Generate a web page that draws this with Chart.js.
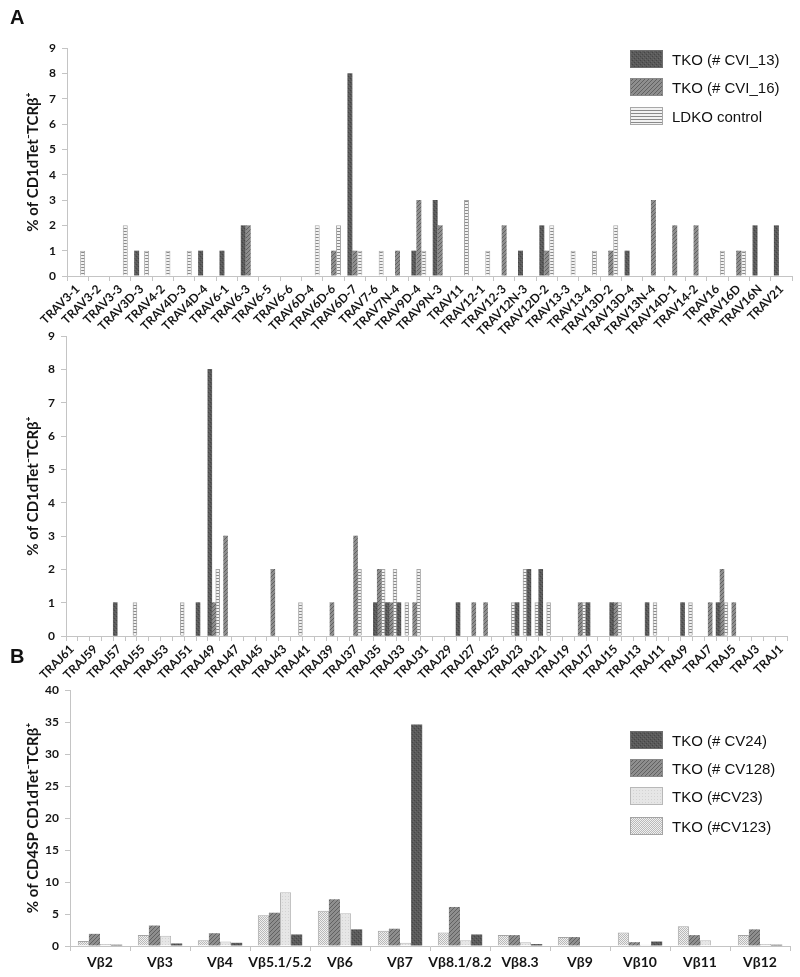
<!DOCTYPE html>
<html>
<head>
<meta charset="utf-8">
<script src="https://cdn.jsdelivr.net/npm/chart.js@4/dist/chart.umd.min.js"></script>
<style>
  body { margin: 0; background: #fff; }
  #page { position: relative; width: 800px; height: 977px; overflow: hidden; }
  #page > canvas { position: absolute; left: 0; }
  .panel { position: absolute; left: 10px; font: bold 20px "Liberation Sans", Arial, sans-serif; color: #111; }
  .legend { position: absolute; left: 630px; top: 0; }
  .legend .row { position: absolute; left: 0; height: 18px; display: flex; align-items: center; white-space: nowrap; }
  .legend canvas { margin-right: 9px; }
  .legend span { font: 15px "Liberation Sans", Arial, sans-serif; color: #111; }
</style>
</head>
<body>
<div id="page">
  <canvas id="travChart" width="800" height="340" style="top:0"></canvas>
  <canvas id="trajChart" width="800" height="390" style="top:320px"></canvas>
  <canvas id="vbChart" width="800" height="327" style="top:650px"></canvas>
  <div class="panel" style="top:6px">A</div>
  <div class="panel" style="top:645px">B</div>
  <div class="legend" id="legendA"></div>
  <div class="legend" id="legendB"></div>
</div>
<script>
/* global Chart */

// ---- panel A, top: TRAV usage ----
const travLabels = ['TRAV3-1', 'TRAV3-2', 'TRAV3-3', 'TRAV3D-3', 'TRAV4-2', 'TRAV4D-3', 'TRAV4D-4', 'TRAV6-1',
  'TRAV6-3', 'TRAV6-5', 'TRAV6-6', 'TRAV6D-4', 'TRAV6D-6', 'TRAV6D-7', 'TRAV7-6', 'TRAV7N-4', 'TRAV9D-4',
  'TRAV9N-3', 'TRAV11', 'TRAV12-1', 'TRAV12-3', 'TRAV12N-3', 'TRAV12D-2', 'TRAV13-3', 'TRAV13-4',
  'TRAV13D-2', 'TRAV13D-4', 'TRAV13N-4', 'TRAV14D-1', 'TRAV14-2', 'TRAV16', 'TRAV16D', 'TRAV16N', 'TRAV21'];
const travCVI13 = [0,0,0,1,0,0,1,1,2,0, 0,0,0,8,0,0,1,3,0,0, 0,1,2,0,0,0,1,0,0,0, 0,0,2,2];
const travCVI16 = [0,0,0,0,0,0,0,0,2,0, 0,0,1,1,0,1,3,2,0,0, 2,0,1,0,0,1,0,3,2,2, 0,1,0,0];
const travLDKO  = [1,0,2,1,1,1,0,0,0,0, 0,2,2,1,1,0,1,0,3,1, 0,0,2,1,1,2,0,0,0,0, 1,1,0,0];

// ---- panel A, bottom: TRAJ usage ----
const trajLabels = ['TRAJ61', 'TRAJ60', 'TRAJ59', 'TRAJ58', 'TRAJ57', 'TRAJ56', 'TRAJ55', 'TRAJ54', 'TRAJ53',
  'TRAJ52', 'TRAJ51', 'TRAJ50', 'TRAJ49', 'TRAJ48', 'TRAJ47', 'TRAJ46', 'TRAJ45', 'TRAJ44', 'TRAJ43', 'TRAJ42',
  'TRAJ41', 'TRAJ40', 'TRAJ39', 'TRAJ38', 'TRAJ37', 'TRAJ36', 'TRAJ35', 'TRAJ34', 'TRAJ33', 'TRAJ32', 'TRAJ31',
  'TRAJ30', 'TRAJ29', 'TRAJ28', 'TRAJ27', 'TRAJ26', 'TRAJ25', 'TRAJ24', 'TRAJ23', 'TRAJ22', 'TRAJ21', 'TRAJ20',
  'TRAJ19', 'TRAJ18', 'TRAJ17', 'TRAJ16', 'TRAJ15', 'TRAJ14', 'TRAJ13', 'TRAJ12', 'TRAJ11', 'TRAJ10', 'TRAJ9',
  'TRAJ8', 'TRAJ7', 'TRAJ6', 'TRAJ5', 'TRAJ4', 'TRAJ3', 'TRAJ2', 'TRAJ1'];
const trajCVI13 = [0,0,0,0,1,0,0,0,0,0, 0,1,8,0,0,0,0,0,0,0, 0,0,0,0,0,0,1,1,1,0,
                   0,0,0,1,0,0,0,0,1,2, 2,0,0,0,1,0,1,0,0,1, 0,0,1,0,0,1,0,0,0,0, 0];
const trajCVI16 = [0,0,0,0,0,0,0,0,0,0, 0,0,1,3,0,0,0,2,0,0, 0,0,1,0,3,0,2,1,0,1,
                   0,0,0,0,1,1,0,0,0,0, 0,0,0,1,0,0,1,0,0,0, 0,0,0,0,1,2,1,0,0,0, 0];
const trajLDKO  = [0,0,0,0,0,1,0,0,0,1, 0,0,2,0,0,0,0,0,0,1, 0,0,0,0,2,0,2,2,1,2,
                   0,0,0,0,0,0,0,1,2,1, 1,0,0,1,0,0,1,0,0,1, 0,0,1,0,0,1,0,0,0,0, 0];

// ---- panel B: Vbeta usage ----
const vbLabels = ['Vβ2', 'Vβ3', 'Vβ4', 'Vβ5.1/5.2', 'Vβ6', 'Vβ7', 'Vβ8.1/8.2', 'Vβ8.3', 'Vβ9', 'Vβ10', 'Vβ11', 'Vβ12'];
const vbCV123 = [0.8, 1.7, 0.9, 4.8, 5.5, 2.4, 2.1, 1.7, 1.4, 2.1, 3.1, 1.7];
const vbCV128 = [1.9, 3.2, 2.0, 5.2, 7.3, 2.7, 6.1, 1.7, 1.4, 0.6, 1.7, 2.6];
const vbCV23  = [0.3, 1.6, 0.7, 8.4, 5.1, 0.5, 0.9, 0.6, 0,   0.2, 0.9, 0.3];
const vbCV24  = [0.2, 0.4, 0.5, 1.8, 2.6, 34.6, 1.8, 0.3, 0,  0.7, 0,   0.2];

const FONT = 'Lato, "Open Sans", sans-serif';
const AXIS = '#c4c4c4';
const INK = '#141414';

// small repeating tiles to imitate the Excel fill patterns
function tile(w, h, paint) {
  const c = document.createElement('canvas');
  c.width = w; c.height = h;
  const g = c.getContext('2d');
  paint(g);
  return g.createPattern(c, 'repeat');
}
function px(g, col, pts) {
  g.fillStyle = col;
  pts.forEach(p => g.fillRect(p[0], p[1], 1, 1));
}

const patDark = tile(4, 4, g => {
  g.fillStyle = '#5a5a5a'; g.fillRect(0, 0, 4, 4);
  px(g, '#454545', [[0, 0], [2, 2]]);
  px(g, '#6a6a6a', [[1, 3], [3, 1]]);
});
const patMedium = tile(4, 4, g => {
  g.fillStyle = '#8e8e8e'; g.fillRect(0, 0, 4, 4);
  px(g, '#616161', [[0, 3], [1, 2], [2, 1], [3, 0]]);
});
const patStripes = tile(3, 3, g => {
  g.fillStyle = '#f2f2f2'; g.fillRect(0, 0, 3, 3);
  g.fillStyle = '#8a8a8a'; g.fillRect(0, 0, 3, 1);
});
const patLight = tile(3, 3, g => {
  g.fillStyle = '#e6e6e6'; g.fillRect(0, 0, 3, 3);
  px(g, '#d3d3d3', [[0, 0]]);
});
const patChecker = tile(2, 2, g => {
  g.fillStyle = '#f0f0f0'; g.fillRect(0, 0, 2, 2);
  px(g, '#b9b9b9', [[0, 0], [1, 1]]);
});

const nz = arr => arr.map(v => (v === 0 ? null : v));

function series(label, values, fill, border) {
  return {
    label,
    data: nz(values),
    backgroundColor: fill,
    borderColor: border || 'rgba(0,0,0,0)',
    borderWidth: border ? 1 : 0,
  };
}

function labelFor(val) { return this.getLabelForValue(val); }

function makeChart(id, labels, datasets, o) {
  return new Chart(document.getElementById(id), {
    type: 'bar',
    data: { labels, datasets },
    options: {
      responsive: false,
      animation: false,
      layout: { padding: { top: o.padTop, right: o.padRight, left: 0, bottom: 0 } },
      plugins: { legend: { display: false }, tooltip: { enabled: false } },
      datasets: { bar: { categoryPercentage: o.catPct, barPercentage: 1 } },
      scales: {
        x: {
          grid: { offset: true, drawOnChartArea: false, tickLength: 5, color: AXIS },
          border: { color: AXIS },
          ticks: {
            autoSkip: false,
            minRotation: o.rot,
            maxRotation: o.rot,
            padding: o.xPad,
            color: INK,
            font: { family: FONT, weight: 'bold', size: o.xSize },
            callback: o.xCallback || labelFor,
          },
          afterFit: s => { s.height = o.xHeight; },
        },
        y: {
          min: 0,
          max: o.yMax,
          ticks: { stepSize: o.yStep, padding: 6, color: INK, font: { family: FONT, weight: 'bold', size: 12 } },
          grid: { drawOnChartArea: false, tickLength: 5, color: AXIS },
          border: { color: AXIS },
          title: {
            display: true,
            text: o.yTitle,
            color: INK,
            padding: { top: 24, bottom: 0 },
            font: { family: FONT, weight: 'bold', size: 15 },
          },
          afterFit: s => { s.width = o.yWidth; },
        },
      },
    },
  });
}

const titleA = '% of CD1dTet⁻TCRβ⁺';

makeChart('travChart', travLabels, [
  series('TKO (# CVI_13)', travCVI13, patDark),
  series('TKO (# CVI_16)', travCVI16, patMedium),
  series('LDKO control', travLDKO, patStripes, '#a8a8a8'),
], {
  padTop: 48, padRight: 8, catPct: 0.7, rot: 45, xPad: 1, xSize: 12, xHeight: 64,
  yMax: 9, yStep: 1, yTitle: titleA, yWidth: 67,
});

makeChart('trajChart', trajLabels, [
  series('TKO (# CVI_13)', trajCVI13, patDark),
  series('TKO (# CVI_16)', trajCVI16, patMedium),
  series('LDKO control', trajLDKO, patStripes, '#a8a8a8'),
], {
  padTop: 16, padRight: 13, catPct: 1.0, rot: 45, xPad: 1, xSize: 12, xHeight: 74,
  yMax: 9, yStep: 1, yTitle: titleA, yWidth: 66,
  xCallback: function (val, i) { return i % 2 === 0 ? this.getLabelForValue(val) : ''; },
});

makeChart('vbChart', vbLabels, [
  series('TKO (#CV123)', vbCV123, patChecker, '#a4a4a4'),
  series('TKO (# CV128)', vbCV128, patMedium),
  series('TKO (#CV23)', vbCV23, patLight, '#b8b8b8'),
  series('TKO (# CV24)', vbCV24, patDark),
], {
  padTop: 40, padRight: 10, catPct: 0.74, rot: 0, xPad: 3, xSize: 14, xHeight: 31,
  yMax: 40, yStep: 5, yTitle: '% of CD4SP CD1dTet⁻TCRβ⁺', yWidth: 70,
});

// legends drawn as html so they can sit inside the plot areas like the original
function legend(id, items, tops) {
  const box = document.getElementById(id);
  items.forEach((it, i) => {
    const row = document.createElement('div');
    row.className = 'row';
    row.style.top = tops[i] + 'px';
    const sw = document.createElement('canvas');
    sw.width = 33; sw.height = 18;
    const g = sw.getContext('2d');
    g.fillStyle = it.fill;
    g.fillRect(0, 0, 33, 18);
    g.strokeStyle = it.border || '#8a8a8a';
    g.lineWidth = 1;
    g.strokeRect(0.5, 0.5, 32, 17);
    const txt = document.createElement('span');
    txt.textContent = it.label;
    row.appendChild(sw);
    row.appendChild(txt);
    box.appendChild(row);
  });
}

legend('legendA', [
  { label: 'TKO (# CVI_13)', fill: patDark, border: '#6e6e6e' },
  { label: 'TKO (# CVI_16)', fill: patMedium, border: '#8a8a8a' },
  { label: 'LDKO control', fill: patStripes, border: '#a8a8a8' },
], [50, 78, 107]);

legend('legendB', [
  { label: 'TKO (# CV24)', fill: patDark, border: '#6e6e6e' },
  { label: 'TKO (# CV128)', fill: patMedium, border: '#8a8a8a' },
  { label: 'TKO (#CV23)', fill: patLight, border: '#b8b8b8' },
  { label: 'TKO (#CV123)', fill: patChecker, border: '#a4a4a4' },
], [731, 759, 787, 817]);
</script>
</body>
</html>
